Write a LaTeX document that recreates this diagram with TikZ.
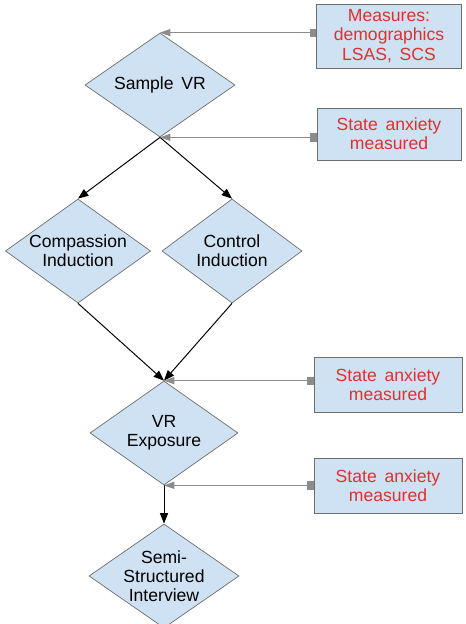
\documentclass[tikz,border=0pt]{standalone}
\usepackage{fontspec}
\setmainfont{Liberation Sans}
\usepackage{tikz}
\usetikzlibrary{shapes.geometric, arrows.meta, positioning}
\definecolor{boxblue}{HTML}{CFE2F3}
\definecolor{edgegray}{HTML}{6E6E6E}
\definecolor{linkgray}{HTML}{8C8C8C}
\definecolor{notered}{HTML}{E0302E}

\begin{document}
\begin{tikzpicture}[
    x=0.025cm, y=-0.025cm,
    every node/.style={font=\fontsize{12.5}{13.6}\selectfont},
    stage/.style={diamond, draw=edgegray, fill=boxblue, line width=0.5pt, align=center,
        inner sep=-2pt, aspect=1.42, minimum width=3.7cm, minimum height=2.6cm},
    note/.style={rectangle, draw=edgegray, fill=boxblue, line width=0.6pt, align=center,
        text=notered, minimum width=3.7cm, minimum height=1.37cm},
    flow/.style={-{Triangle[length=2.6mm, width=2mm]}, line width=0.7pt, draw=black},
    feed/.style={{Square[length=1.6mm, width=2mm]}-{Triangle[length=2.6mm, width=1.8mm]}, line width=0.6pt, draw=linkgray}
]
    \useasboundingbox (0,0) rectangle (466,624);

    % main flow
    \node[stage, minimum width=3.75cm] (sample) at (160,85) {Sample\, VR};
    \node[stage, minimum width=3.63cm] (compassion) at (78,251) {Compassion\\Induction};
    \node[stage, minimum width=3.5cm] (control) at (232,251) {Control\\Induction};
    \node[stage] (exposure) at (164,433) {VR\\Exposure};
    \node[stage, minimum width=3.75cm] (interview) at (164,576) {Semi-\\Structured\\Interview};

    % measures
    \node[note, minimum width=3.63cm, minimum height=1.6cm] (measures) at (389,36) {Measures:\\demographics\\LSAS,\, SCS};
    \node[note, minimum width=3.6cm, minimum height=1.3cm] (anxietyA) at (389,134) {State\, anxiety\\measured};
    \node[note] (anxietyB) at (388,385) {State\, anxiety\\measured};
    \node[note] (anxietyC) at (388,486) {State\, anxiety\\measured};

    \draw[flow] (sample.south) -- (compassion.north);
    \draw[flow] (sample.south) -- (control.north);
    \draw[flow] (compassion.south) -- (exposure.north);
    \draw[flow] (control.south) -- (exposure.north);
    \draw[flow] (exposure.south) -- (interview.north);

    \draw[feed] (measures.west |- sample.north) -- (sample.north);
    \draw[feed] (anxietyA.west |- sample.south) -- (sample.south);
    \draw[feed] (anxietyB.west |- exposure.north) -- (exposure.north);
    \draw[feed] (anxietyC.west |- exposure.south) -- (exposure.south);
\end{tikzpicture}
\end{document}
